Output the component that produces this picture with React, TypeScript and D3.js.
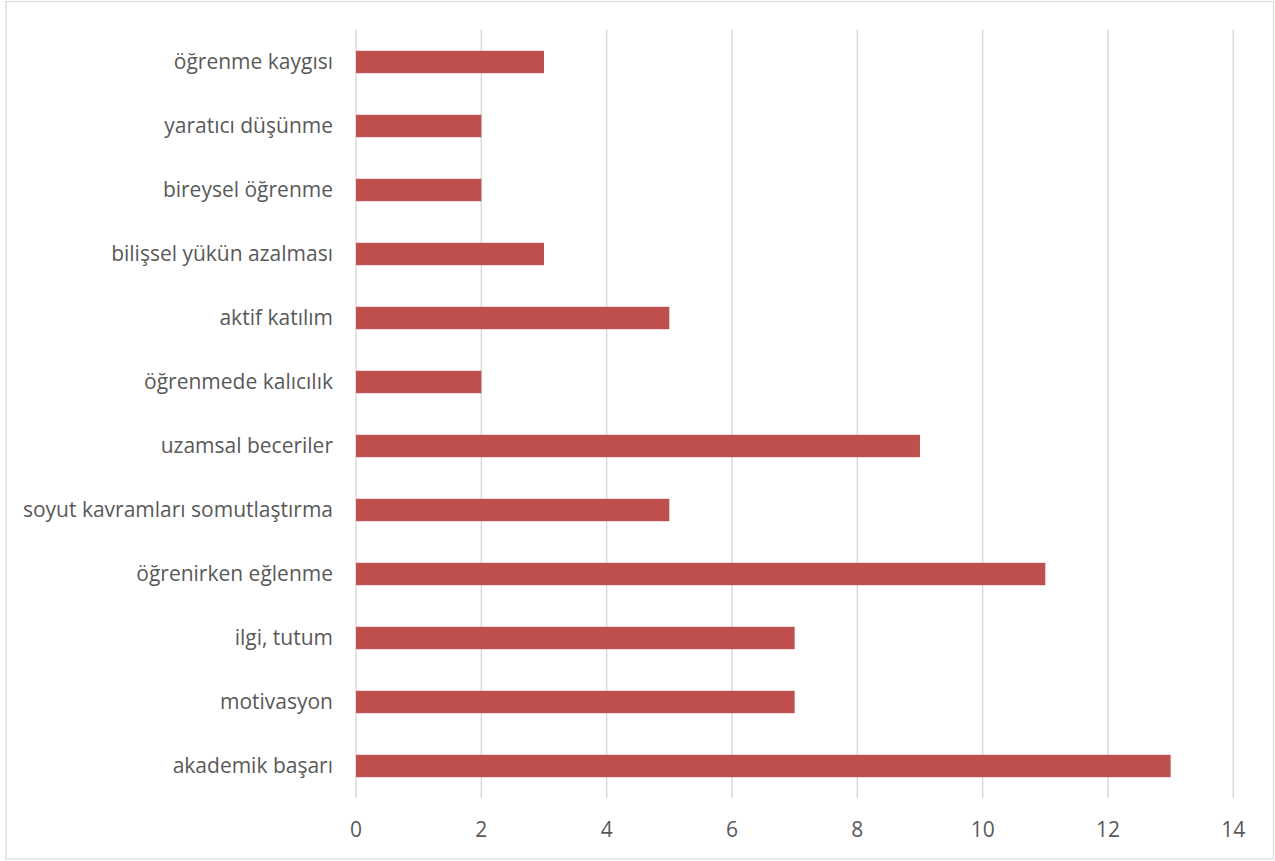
import React from "react";
import * as d3 from "d3";

const categories = [
  "öğrenme kaygısı",
  "yaratıcı düşünme",
  "bireysel öğrenme",
  "bilişsel yükün azalması",
  "aktif katılım",
  "öğrenmede kalıcılık",
  "uzamsal beceriler",
  "soyut kavramları somutlaştırma",
  "öğrenirken eğlenme",
  "ilgi, tutum",
  "motivasyon",
  "akademik başarı",
];
const values = [3, 2, 2, 3, 5, 2, 9, 5, 11, 7, 7, 13];
const xTicks = [0, 2, 4, 6, 8, 10, 12, 14];

export default function App() {
  const W = 1275, H = 861;
  const x = d3.scaleLinear().domain([0, 14]).range([356, 1233.3]);
  const y = d3.scaleBand<string>().domain(categories).range([30, 798]).paddingInner(0.65).paddingOuter(0.325);
  const font = "'Open Sans', sans-serif";
  return (
    <svg width={W} height={H} style={{ position: "absolute", left: 0, top: 0, background: "#fff" }}>
      <rect x={6} y={1.5} width={1267.5} height={857.5} fill="#fff" stroke="#d9d9d9" strokeWidth={1.2} />
      {xTicks.map((t) => (
        <line key={t} x1={x(t)} x2={x(t)} y1={30} y2={798} stroke="#d9d9d9" strokeWidth={1.5} />
      ))}
      {categories.map((c, i) => (
        <rect key={c} x={x(0)} y={y(c)!} width={x(values[i]) - x(0)} height={y.bandwidth()} fill="#c0504d" />
      ))}
      {categories.map((c) => (
        <text key={c} x={333} y={y(c)! + y.bandwidth() / 2} dy="0.35em" textAnchor="end" fontFamily={font} fontSize={21} fill="#595959">
          {c}
        </text>
      ))}
      {xTicks.map((t) => (
        <text key={t} x={x(t)} y={830} dy="0.35em" textAnchor="middle" fontFamily={font} fontSize={21} fill="#595959">
          {t}
        </text>
      ))}
    </svg>
  );
}
